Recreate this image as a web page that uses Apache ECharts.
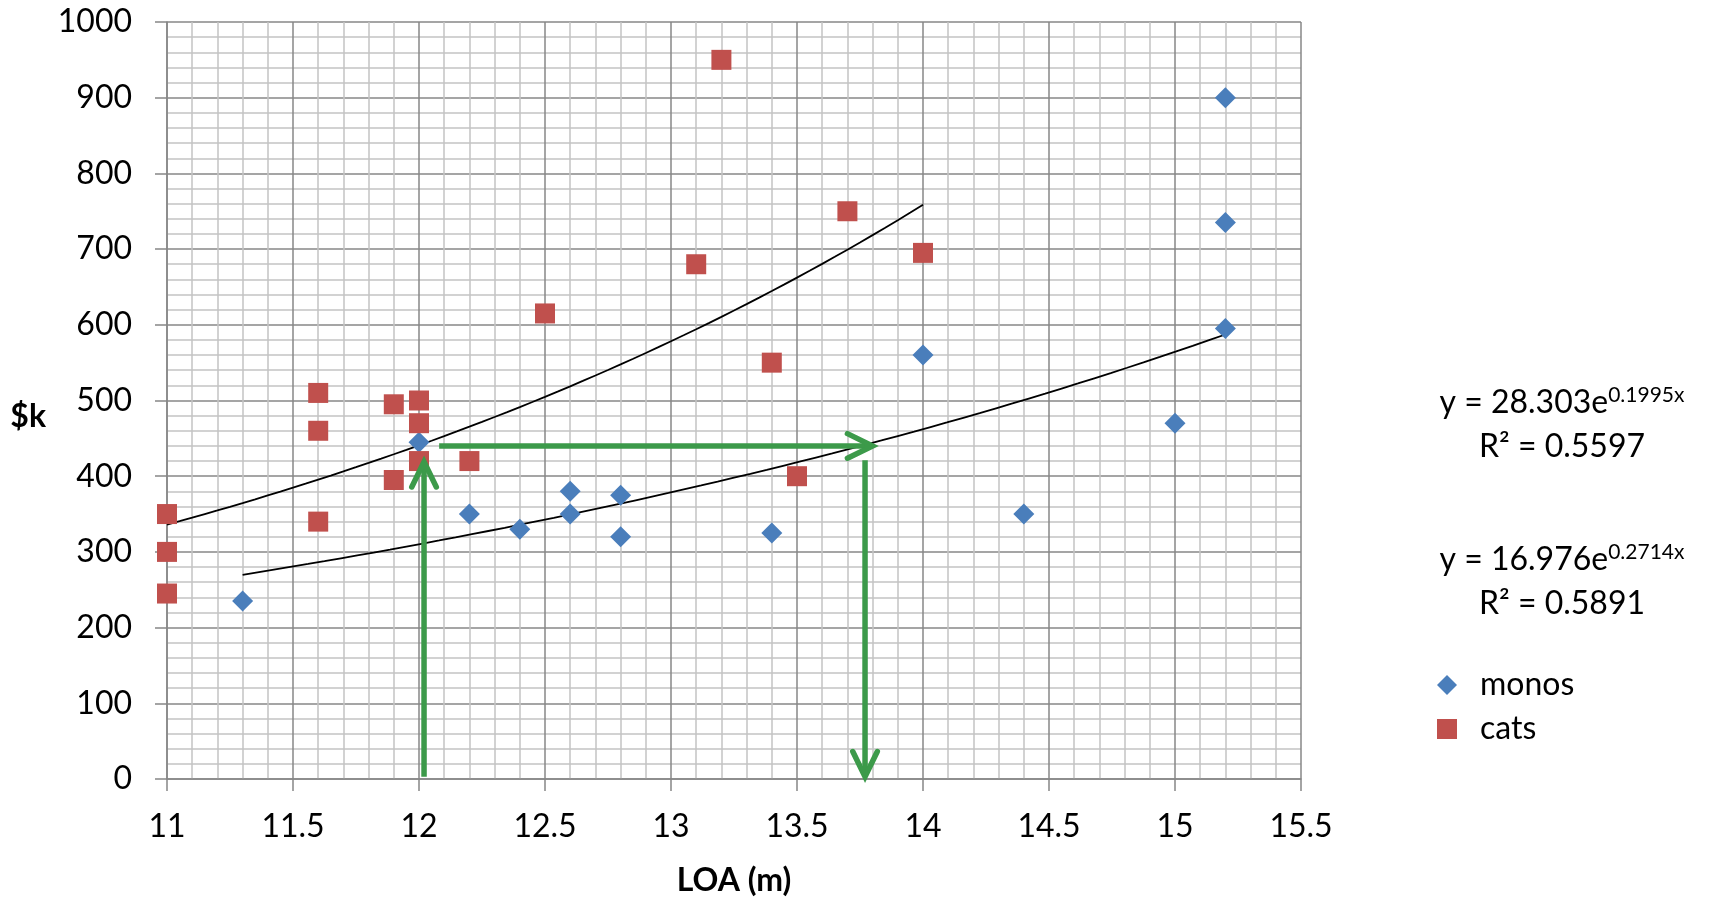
<!DOCTYPE html>
<html>
<head>
<meta charset="utf-8">
<script src="https://cdn.jsdelivr.net/npm/echarts@6/dist/echarts.min.js"></script>
<style>html,body{margin:0;padding:0;background:#fff;}#c{width:1712px;height:900px;}</style>
</head>
<body>
<div id="c"></div>
<script>
// ---- data ----
const monos = [
  [11.3, 235], [12.0, 445], [12.2, 350], [12.4, 330], [12.6, 380], [12.6, 350],
  [12.8, 375], [12.8, 320], [13.4, 325], [14.0, 560], [14.4, 350], [15.0, 470],
  [15.2, 900], [15.2, 735], [15.2, 595]
];
const cats = [
  [11.0, 350], [11.0, 300], [11.0, 245], [11.6, 510], [11.6, 460], [11.6, 340],
  [11.9, 495], [11.9, 395], [12.0, 500], [12.0, 470], [12.0, 420], [12.2, 420],
  [12.5, 615], [13.1, 680], [13.2, 950], [13.4, 550], [13.5, 400], [13.7, 750],
  [14.0, 695]
];
// exponential trendlines y = a * e^(b x), as printed on the chart
const monosFit = {a: 28.303, b: 0.1995, r2: '0.5597', from: 11.3, to: 15.2};
const catsFit  = {a: 16.976, b: 0.2714, r2: '0.5891', from: 11.0, to: 14.0};
// green arrows [x1, y1, x2, y2] (tip at x2,y2)
const arrows = [
  [12.02, 3, 12.02, 419],
  [12.08, 440, 13.80, 440],
  [13.77, 421, 13.77, 3]
];
const xTicks = {min: 11, max: 15.5, interval: 0.5};
const yTicks = {min: 0, max: 1000, interval: 100};

function fitLine(f) {
  const pts = [];
  const n = 60;
  for (let i = 0; i <= n; i++) {
    const x = f.from + (f.to - f.from) * i / n;
    pts.push([x, f.a * Math.exp(f.b * x)]);
  }
  return pts;
}

const FONT = 'Lato';
const FS = 32;
const chart = echarts.init(document.getElementById('c'), null, {renderer: 'canvas'});
const majorColor = '#878787';
const minorColor = '#c3c3c3';

function eqText(f) {
  return '{b|y = ' + f.a.toFixed(3) + 'e}{s|' + f.b.toFixed(4) + 'x}';
}
const eqRich = {
  b: {fontFamily: FONT, fontSize: FS, fill: '#000', lineHeight: 36},
  s: {fontFamily: FONT, fontSize: 21, fill: '#000', lineHeight: 36, verticalAlign: 'top', padding: [0, 0, 12, 0]}
};

chart.setOption({
  backgroundColor: '#ffffff',
  animation: false,
  textStyle: {fontFamily: FONT},
  grid: {left: 167, top: 22, width: 1134, height: 757, containLabel: false, outerBoundsMode: 'none'},
  xAxis: {
    type: 'value', min: xTicks.min, max: xTicks.max, interval: xTicks.interval,
    name: 'LOA (m)', nameLocation: 'middle', nameGap: 86,
    nameTextStyle: {fontFamily: FONT, fontSize: FS, fontWeight: 'bold', color: '#000'},
    axisLine: {show: true, lineStyle: {color: majorColor, width: 1.5}},
    axisTick: {show: true, length: 12, lineStyle: {color: majorColor, width: 1.5}},
    axisLabel: {fontFamily: FONT, fontSize: FS, color: '#000', margin: 32},
    splitLine: {show: true, lineStyle: {color: majorColor, width: 1.5}},
    minorTick: {show: false, splitNumber: 5},
    minorSplitLine: {show: true, lineStyle: {color: minorColor, width: 1.5}}
  },
  yAxis: {
    type: 'value', min: yTicks.min, max: yTicks.max, interval: yTicks.interval,
    name: '$k', nameLocation: 'middle', nameRotate: 0, nameGap: 121,
    nameTextStyle: {fontFamily: FONT, fontSize: FS, fontWeight: 'bold', color: '#000', verticalAlign: 'top'},
    axisLine: {show: true, lineStyle: {color: majorColor, width: 1.5}},
    axisTick: {show: true, length: 12, lineStyle: {color: majorColor, width: 1.5}},
    axisLabel: {fontFamily: FONT, fontSize: FS, color: '#000', margin: 35,
      formatter: function (v) { return String(v); }},
    splitLine: {show: true, lineStyle: {color: majorColor, width: 1.5}},
    minorTick: {show: false, splitNumber: 5},
    minorSplitLine: {show: true, lineStyle: {color: minorColor, width: 1.5}}
  },
  legend: {
    orient: 'vertical', left: 1432, top: 664,
    itemWidth: 20, itemHeight: 20, itemGap: 12,
    data: [{name: 'monos', icon: 'diamond'}, {name: 'cats', icon: 'rect'}],
    textStyle: {fontFamily: FONT, fontSize: FS, color: '#000', lineHeight: 32, padding: [0, 0, 0, 18]}
  },
  series: [
    {
      name: 'monos trend', type: 'line', data: fitLine(monosFit), showSymbol: false,
      lineStyle: {color: '#000', width: 1.8}, z: 3, silent: true
    },
    {
      name: 'cats trend', type: 'line', data: fitLine(catsFit), showSymbol: false,
      lineStyle: {color: '#000', width: 1.8}, z: 3, silent: true
    },
    {
      name: 'monos', type: 'scatter', data: monos, symbol: 'diamond', symbolSize: 21,
      itemStyle: {color: '#4a7ebb', opacity: 1}, z: 4
    },
    {
      name: 'cats', type: 'scatter', data: cats, symbol: 'rect', symbolSize: 20,
      itemStyle: {color: '#c0504d', opacity: 1}, z: 4
    },
    {
      name: 'arrows', type: 'custom', data: arrows, z: 5, silent: true,
      renderItem: function (params, api) {
        const p1 = api.coord([api.value(0), api.value(1)]);
        const p2 = api.coord([api.value(2), api.value(3)]);
        const dx = p2[0] - p1[0], dy = p2[1] - p1[1];
        const len = Math.sqrt(dx * dx + dy * dy);
        const ux = dx / len, uy = dy / len;
        const arm = 28, ang = 26 * Math.PI / 180;
        const c = Math.cos(ang), s = Math.sin(ang);
        const ax1 = -ux * c + uy * s, ay1 = -uy * c - ux * s;
        const ax2 = -ux * c - uy * s, ay2 = -uy * c + ux * s;
        const style = {stroke: '#3c9a4a', lineWidth: 5.5, fill: null, lineCap: 'butt', lineJoin: 'miter'};
        return {
          type: 'group',
          children: [
            {type: 'line', shape: {x1: p1[0], y1: p1[1], x2: p2[0] - ux * 3, y2: p2[1] - uy * 3}, style: style},
            {type: 'polyline', shape: {points: [
              [p2[0] + ax1 * arm, p2[1] + ay1 * arm], p2, [p2[0] + ax2 * arm, p2[1] + ay2 * arm]
            ]}, style: Object.assign({}, style, {lineCap: 'round'})}
          ]
        };
      }
    }
  ],
  graphic: [
    {
      type: 'text', x: 1562, y: 403,
      style: {text: eqText(monosFit), align: 'center', verticalAlign: 'middle', rich: eqRich}
    },
    {
      type: 'text', x: 1562, y: 447,
      style: {text: 'R\u00b2 = ' + monosFit.r2, align: 'center', verticalAlign: 'middle', fontFamily: FONT, fontSize: FS, fill: '#000'}
    },
    {
      type: 'text', x: 1562, y: 560,
      style: {text: eqText(catsFit), align: 'center', verticalAlign: 'middle', rich: eqRich}
    },
    {
      type: 'text', x: 1562, y: 604,
      style: {text: 'R\u00b2 = ' + catsFit.r2, align: 'center', verticalAlign: 'middle', fontFamily: FONT, fontSize: FS, fill: '#000'}
    }
  ]
});
</script>
</body>
</html>
